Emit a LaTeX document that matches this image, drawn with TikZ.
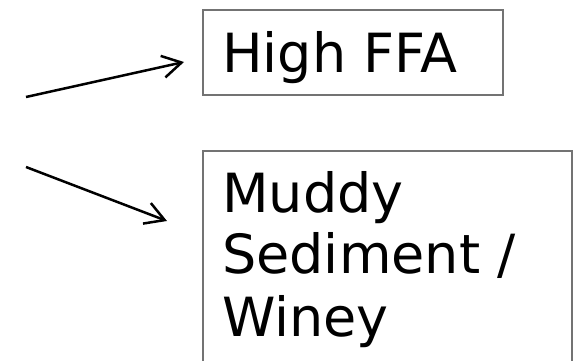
\documentclass[tikz,border=0pt]{standalone}
\usepackage{fontspec}
\setmainfont{DejaVu Sans}
\usetikzlibrary{arrows.meta}
\begin{document}
\begin{tikzpicture}[x=1pt,y=1pt,
  box/.style={draw=black!55, line width=1.5pt, fill=none, inner sep=0pt, anchor=north west},
  lbl/.style={inner sep=0pt, anchor=base west, font=\fontsize{54}{64}\selectfont},
  conn/.style={line width=2.5pt, -{Straight Barb[length=19pt,width=22pt,line width=2.5pt]}}]
\useasboundingbox (0,0) rectangle (573,360);
% boxes
\node[box, minimum width=300pt, minimum height=85pt] (b1) at (202,351) {};
\node[box, minimum width=369pt, minimum height=230pt] (b2) at (202,210) {};
% texts
\node[lbl] (t1) at (222,288) {High FFA};
\node[lbl] (m1) at (222,148) {Muddy};
\node[lbl] (m2) at (222,87) {Sediment /};
\node[lbl] (m3) at (222,24) {Winey};
% arrows
\coordinate (a1s) at (26,263);
\coordinate (a1e) at (184,298);
\coordinate (a2s) at (26,193);
\coordinate (a2e) at (167,139);
\draw[conn] (a1s) -- (a1e);
\draw[conn] (a2s) -- (a2e);
\end{tikzpicture}
\end{document}
